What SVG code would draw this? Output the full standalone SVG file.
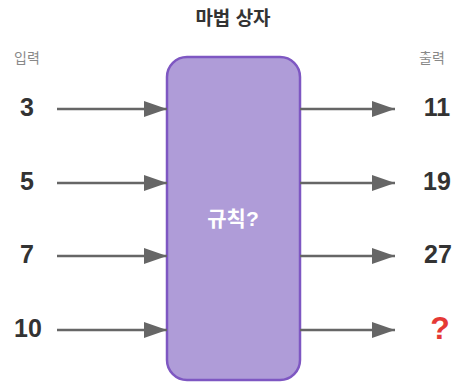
<svg xmlns="http://www.w3.org/2000/svg" width="455" height="383" viewBox="0 0 455 383">
<style>
text{font-family:"Liberation Sans","Noto Sans CJK KR",sans-serif;text-anchor:middle;dominant-baseline:central}
.t{font-size:19px;font-weight:bold;fill:#333}
.h{font-size:14px;fill:#888}
.n{font-size:25px;font-weight:bold;fill:#333}
.q{font-size:32px;font-weight:bold;fill:#e53935}
.c{stroke:#666;stroke-width:2.5;fill:none;marker-end:url(#ah)}
</style>
<defs>
<marker id="ah" markerUnits="userSpaceOnUse" markerWidth="24" markerHeight="18" refX="23" refY="8" orient="auto">
<path d="M0,0 L23,8 L0,16 Z" fill="#666"/>
</marker>
</defs>
<text class="t" x="233" y="18">마법 상자</text>
<text class="h" x="27" y="58">입력</text>
<text class="h" x="432" y="58">출력</text>
<g id="box">
<rect x="167" y="57" width="133" height="323" rx="20" fill="#af9cd8" stroke="#7e57c2" stroke-width="2.5"/>
<text x="233" y="218" style="font-size:21px;font-weight:bold;fill:#fff">규칙?</text>
</g>
<g id="inputs">
<g id="in3"><text class="n" x="27" y="107">3</text></g>
<g id="in5"><text class="n" x="27" y="181">5</text></g>
<g id="in7"><text class="n" x="27" y="254">7</text></g>
<g id="in10"><text class="n" x="28" y="328">10</text></g>
</g>
<g id="outputs">
<g id="out11"><text class="n" x="437" y="107">11</text></g>
<g id="out19"><text class="n" x="437" y="181">19</text></g>
<g id="out27"><text class="n" x="438" y="254">27</text></g>
<g id="outq"><text class="q" x="440" y="328">?</text></g>
</g>
<g id="connectors">
<line class="c" x1="57" y1="109" x2="167" y2="109"/>
<line class="c" x1="57" y1="183" x2="167" y2="183"/>
<line class="c" x1="57" y1="256" x2="167" y2="256"/>
<line class="c" x1="57" y1="330" x2="167" y2="330"/>
<line class="c" x1="300" y1="109" x2="395" y2="109"/>
<line class="c" x1="300" y1="183" x2="395" y2="183"/>
<line class="c" x1="300" y1="256" x2="395" y2="256"/>
<line class="c" x1="300" y1="330" x2="395" y2="330"/>
</g>
</svg>
